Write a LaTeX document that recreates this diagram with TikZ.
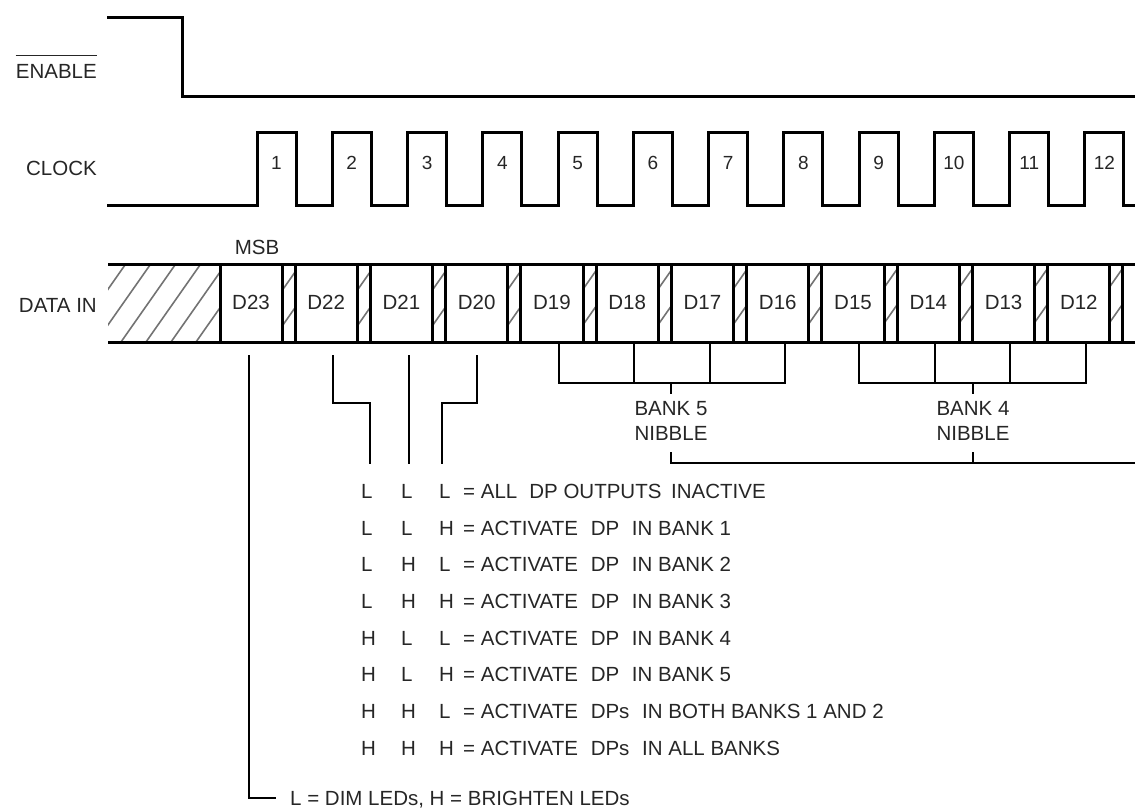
\documentclass[tikz,border=0pt]{standalone}
\usepackage{fontspec}
\setmainfont{Liberation Sans}
\begin{document}
\begin{tikzpicture}[x=1pt,y=-1pt,
  wave/.style={line width=3pt, line join=miter},
  bus/.style={line width=3pt},
  conn/.style={line width=1.6pt},
  hatchline/.style={line width=1.6pt, black!55},
  lbl/.style={inner sep=0pt, text height=14.7pt, text depth=0pt, text=black!85, font=\fontsize{20.5}{24}\selectfont},
  num/.style={lbl, font=\fontsize{19}{22}\selectfont, text height=13.6pt},
]
\useasboundingbox (0,0) rectangle (1135,810);

% signal names
\node[lbl, anchor=east] (en) at (97,71) {ENABLE};
\draw[line width=1.5pt, black!85] ([yshift=8pt]en.north west) -- ([yshift=8pt]en.north east);
\node[lbl, anchor=east] (clk) at (97,168) {CLOCK};
\node[lbl, anchor=east] (din) at (97,305) {DATA IN};

% ENABLE waveform
\draw[wave] (107,18) -- (182,18) -- (182,97) -- (1135,97);

% CLOCK waveform
\draw[wave] (107,206) foreach \n in {0,...,11} {
  -- ({257+75.27*\n},206) -- ({257+75.27*\n},133) -- ({296+75.27*\n},133) -- ({296+75.27*\n},206)
} -- (1135,206);
\foreach \n in {1,...,12}
  \node[num] (c\n) at ({276.5+75.27*(\n-1)},163) {\n};

% DATA IN bus: hatching
\begin{scope}
  \clip (108,265) rectangle (220,342)
    foreach \k in {0,...,11} { ({282+75.27*\k},265) rectangle ({295+75.27*\k},342) };
  \foreach \c in {0,25,...,1250}
    \draw[hatchline] ({\c-54},342) -- (\c,265);
\end{scope}
\draw[bus] (108,265) -- (1135,265);
\draw[bus] (108,342) -- (1135,342);
\draw[bus] (220,265) -- (220,342);
\foreach \k in {0,...,11} {
  \draw[bus] ({282+75.27*\k},265) -- ++(0,77);
  \draw[bus] ({295+75.27*\k},265) -- ++(0,77);
}
\node[lbl] (msb) at (257,247) {MSB};
\node[lbl] (d23) at (251,302) {D23};
\foreach \k [evaluate=\k as \t using int(23-\k)] in {1,...,11}
  \node[lbl] (d\t) at ({(577+75.27*(2*\k-1))/2},302) {D\t};

% bit-selection connectors
\coordinate (s23) at (249,355);
\coordinate (s22) at (333,355);
\coordinate (s21) at (409,355);
\coordinate (s20) at (477,355);
\coordinate (e22) at (370,464);
\coordinate (e21) at (409,464);
\coordinate (e20) at (442,464);
\draw[conn] (s22) -- (333,403) -- (370,403) -- (e22);
\draw[conn] (s21) -- (e21);
\draw[conn] (s20) -- (477,403) -- (442,403) -- (e20);

% truth table
\foreach \i/\a/\b/\c/\txt in {
  0/L/L/L/{= ALL\hspace{12pt}DP OUTPUTS\hspace{4pt} INACTIVE},
  1/L/L/H/{= ACTIVATE\hspace{7pt} DP\hspace{7pt} IN BANK 1},
  2/L/H/L/{= ACTIVATE\hspace{7pt} DP\hspace{7pt} IN BANK 2},
  3/L/H/H/{= ACTIVATE\hspace{7pt} DP\hspace{7pt} IN BANK 3},
  4/H/L/L/{= ACTIVATE\hspace{7pt} DP\hspace{7pt} IN BANK 4},
  5/H/L/H/{= ACTIVATE\hspace{7pt} DP\hspace{7pt} IN BANK 5},
  6/H/H/L/{= ACTIVATE\hspace{7pt} DPs\hspace{7pt} IN BOTH BANKS 1 AND 2},
  7/H/H/H/{= ACTIVATE\hspace{7pt} DPs\hspace{7pt} IN ALL BANKS}} {
  \node[lbl, anchor=west] (ra\i) at (361,{491+36.7*\i}) {\a};
  \node[lbl, anchor=west] (rb\i) at (401,{491+36.7*\i}) {\b};
  \node[lbl, anchor=west] (rc\i) at (439,{491+36.7*\i}) {\c};
  \node[lbl, anchor=west] (rt\i) at (463,{491+36.7*\i}) {\txt};
}

% brightness bit
\node[lbl, anchor=west] (dim) at (290,798) {L = DIM LEDs, H = BRIGHTEN LEDs};
\draw[conn] (s23) |- ([xshift=-14pt]dim.west);

% bank nibble brackets
\draw[conn] (559,343) -- (559,383) -- (785,383) -- (785,343);
\draw[conn] (634,343) -- (634,383);
\draw[conn] (710,343) -- (710,383);
\draw[conn] (671,383) -- (671,394);
\node[lbl] (b5a) at (671,408) {BANK 5};
\node[lbl] (b5b) at (671,433) {NIBBLE};

\draw[conn] (859,343) -- (859,383) -- (1086,383) -- (1086,343);
\draw[conn] (935,343) -- (935,383);
\draw[conn] (1010,343) -- (1010,383);
\draw[conn] (973,383) -- (973,394);
\node[lbl] (b4a) at (973,408) {BANK 4};
\node[lbl] (b4b) at (973,433) {NIBBLE};

\draw[conn] (671,452) -- (671,463) -- (1135,463);
\draw[conn] (973,452) -- (973,463);
\end{tikzpicture}
\end{document}
